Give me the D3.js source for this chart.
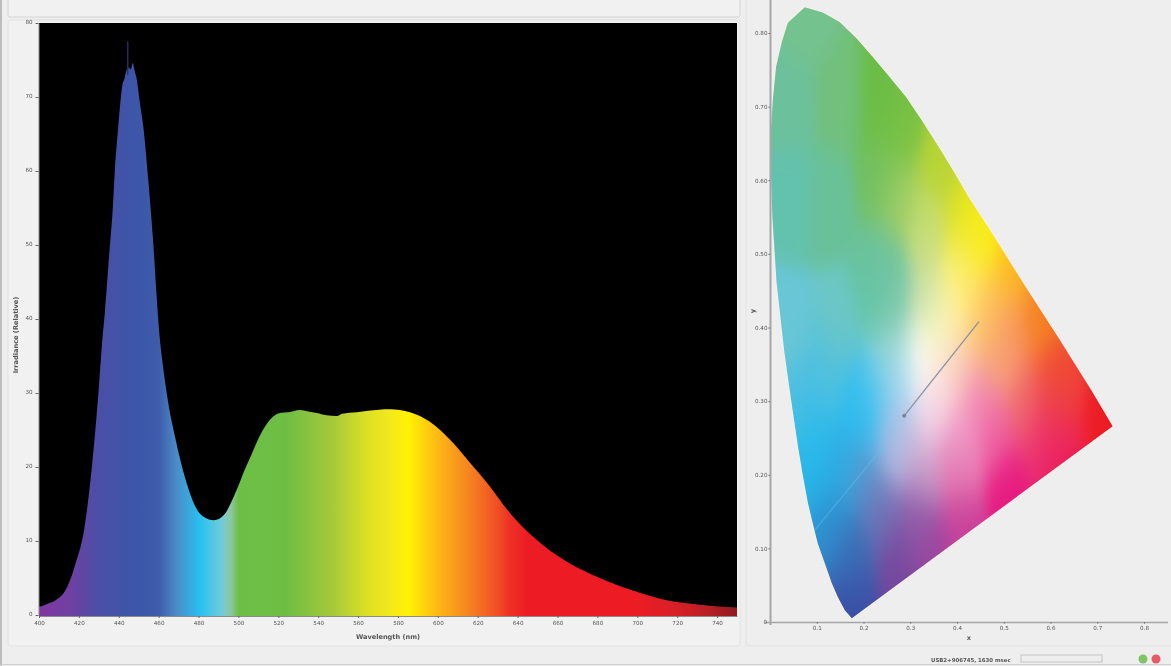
<!DOCTYPE html>
<html><head><meta charset="utf-8">
<script src="https://cdnjs.cloudflare.com/ajax/libs/d3/7.8.5/d3.min.js"></script>
<style>
html,body{margin:0;padding:0;background:#eeeeee;overflow:hidden}
svg{display:block;filter:blur(0.4px)}
text{font-family:"DejaVu Sans",sans-serif;fill:#555}
.tick text{font-size:5.6px}
</style></head><body>
<svg id="c" width="1171" height="666"></svg>
<script>
// ---- spectrum data
const wavelengths = [400,401.5,404,408.4,413.4,418.4,422.6,426.7,429.7,431.7,433,435.2,437,438,439.7,441.8,443,443.6,445,446,447,448,449,450.6,452.3,454.8,457.3,459,460.2,462,464.3,468.5,473.5,478.5,483.6,487.7,492.7,497.7,503.6,505.8,510.3,515.8,520.8,525,530.8,535,539.3,544,549.4,552,559.4,565,576,586,596,606,616,626,634.6,647.6,664.7,681.2,697.7,714.8,731.3,750];
const irradiance  = [1.1,1.2,1.5,2.0,3.4,7.0,11.5,20.5,29.7,37,40.8,48.7,55,59.9,65.8,71.6,72.6,73.4,74,73.7,74.6,73.5,72.4,69.2,66,58.8,50.3,43,38.5,34,29.5,23.7,18.3,14.6,13.1,12.8,13.5,16,19.9,21.2,24,26.4,27.3,27.4,27.7,27.5,27.3,27.0,26.9,27.2,27.4,27.6,27.8,27.4,26.1,23.7,20.6,17.4,14.3,10.6,7.2,5,3.3,2.0,1.4,1.0];
const spikeWavelengths = [444.5,444.5], spikeValues = [73,77.5];
const stopWavelengths = [400,415,430,447,460,469,480.7,491,493,496.5,500,524,547,564,576,585,601,616,631,636,645,698,720,735,750];
const stopColors = ["#8036a0","#7040a2","#4a4fa6","#3c55a8","#3e5cab","#4a8cc8","#28c0f0","#6ccbdc","#7cc9cc","#8cc69a","#6cbf46","#6fbe44","#a5c93a","#dbe024","#f4e81c","#fff200","#fdb515","#f58220","#ef4a23","#ee3025","#ed1c24","#ed1c24","#d81f26","#b81f25","#8e1b1f"];
const xTicks = [400,420,440,460,480,500,520,540,560,580,600,620,640,660,680,700,720,740];
const yTicks = [0,10,20,30,40,50,60,70,80];
// ---- chromaticity diagram data
const locusX = [.0745,.113,.149,.185,.219,.255,.291,.327,.362,.395,.426,.474,.546,.617,.687,.733,.175,.160,.145,.132,.117,.102,.091,.081,.070,.060,.049,.038,.030,.023,.014,.005,.0015,.0015,.006,.013,.025,.038];
const locusY = [.835,.828,.815,.793,.768,.741,.713,.679,.644,.610,.576,.529,.456,.386,.315,.266,.005,.016,.034,.053,.08,.107,.135,.162,.2,.238,.285,.333,.37,.410,.461,.550,.618,.664,.709,.754,.787,.814];
const fieldX = [.074,.234,.149,.043,.277,.362,.415,.457,.234,.043,.128,.277,.340,.234,.426,.032,.149,.447,.511,.574,.489,.617,.702,.617,.511,.617,.404,.272,.209,.128,.064,.085,.149,.272,.202,.33,.40,.408,.309,.238,.132,.174,.272,.181,.345,
  .336,.406,.443,.385,.349,.263,.229,.263,.317,.229,.193,.477,.513,.406,.370,.443,.550,.620,.336,.263,.477,.584,.085];
const fieldY = [.818,.709,.709,.709,.668,.614,.553,.526,.600,.573,.573,.573,.533,.490,.485,.397,.397,.410,.478,.410,.356,.329,.274,.257,.179,.22,.247,.319,.274,.342,.302,.207,.207,.238,.197,.207,.207,.125,.139,.152,.139,.094,.075,.016,.094,
  .437,.460,.528,.414,.383,.437,.437,.369,.353,.325,.302,.437,.393,.356,.325,.302,.302,.302,.278,.257,.257,.247,.26];
const fieldColors = ["#74c28e","#6abd45","#72c07c","#6cc09c","#79c143","#b7d433","#dbe020","#fff200","#70bf62","#63c2ae","#69c199","#a5d064","#c9de7c","#6cc29a","#fcef60","#68c6d6","#6dc7c6","#fdc766","#fdb813","#f58220","#f7a67c","#ef4f2f","#ed1c24","#ee2c5a","#e61a80","#e8125e","#f2a8d0","#a0d8f5","#2abcee","#4fc0e0","#52bfe0","#26b5e8","#2cb0e6","#bfb7dc","#5b92cc","#c99cc9","#e269a9","#c9409a","#8c5ba8","#6f70b5","#2e8fcf","#3a6bb5","#74479d","#3a4fa5","#9b449f",
  "#c6dfa0","#fdf080","#f8ec20","#fff8b0","#fdfbd0","#80c8a8","#5ec4a8","#a0d8d0","#ffffff","#70ccec","#28bcf0","#fdc060","#f79060","#f9c8b0","#f9d8e0","#f08ab8","#ef6a6a","#ee4040","#f4d8e8","#a8c0e8","#ee5fa0","#ec3a78","#2bbcec"];
const cieTicksX = [.1,.2,.3,.4,.5,.6,.7,.8];
const cieTicksY = [.1,.2,.3,.4,.5,.6,.7,.8];
const dominantX = [.287,.447], dominantY = [.280,.408];
const streakX = [.096,.245], streakY = [.125,.24];

const svg = d3.select("#c");
// ---- window furniture
const chrome = svg.append("g");
chrome.append("rect").attr("x",0).attr("y",0).attr("width",2).attr("height",666).attr("fill","#bdbdbd");
chrome.append("rect").attr("x",8).attr("y",-6).attr("width",732).attr("height",23).attr("rx",2).attr("fill","#f1f1f1").attr("stroke","#d4d4d4");
chrome.append("rect").attr("x",8).attr("y",20).attr("width",732).attr("height",626).attr("rx",3).attr("fill","#f1f1f1").attr("stroke","#e2e2e2");
chrome.append("rect").attr("x",746).attr("y",-4).attr("width",430).attr("height",650).attr("rx",3).attr("fill","#eeeeee").attr("stroke","#e2e2e2");
chrome.append("line").attr("x1",0).attr("x2",1171).attr("y1",664.5).attr("y2",664.5).attr("stroke","#d0d0d0");

// ---- spectrum
const x = d3.scaleLinear().domain([400,750]).range([39,737]);
const y = d3.scaleLinear().domain([0,80]).range([615,23]);
svg.append("rect").attr("x",x(400)).attr("y",y(80)).attr("width",x(750)-x(400)).attr("height",y(0)-y(80)+1).attr("fill","#000");
const defs = svg.append("defs");
const grad = defs.append("linearGradient").attr("id","spec").attr("gradientUnits","userSpaceOnUse")
  .attr("x1",x(400)).attr("x2",x(750)).attr("y1",0).attr("y2",0);
grad.selectAll("stop").data(stopWavelengths).join("stop")
  .attr("offset",d=>(d-400)/350).attr("stop-color",(d,i)=>stopColors[i]);
const area = d3.area().x(d=>x(d[0])).y0(y(0)+1).y1(d=>y(d[1])).curve(d3.curveMonotoneX);
svg.append("path").datum(d3.zip(wavelengths,irradiance)).attr("d",area).attr("fill","url(#spec)");
const spike = d3.line().x(d=>x(d[0])).y(d=>y(d[1]));
svg.append("path").attr("d",spike(d3.zip(spikeWavelengths,spikeValues))).attr("stroke","#26325e").attr("stroke-width",1.4).attr("fill","none");

const xAxis = svg.append("g").attr("transform",`translate(0,${y(0)+1})`)
  .call(d3.axisBottom(x).tickValues(xTicks).tickSize(2).tickPadding(3).tickSizeOuter(0));
xAxis.select(".domain").attr("stroke","#8a8a8a");
xAxis.selectAll("line").attr("stroke","#666");
const yAxis = svg.append("g").attr("transform",`translate(${x(400)-0.5},0)`)
  .call(d3.axisLeft(y).tickValues(yTicks).tickSize(3).tickPadding(3).tickSizeOuter(0));
yAxis.select(".domain").attr("stroke","#8a8a8a");
yAxis.selectAll("line").attr("stroke","#666");
yAxis.selectAll("text").attr("dy","0.1em");
svg.append("text").attr("x",388).attr("y",639).attr("text-anchor","middle").attr("font-size",6.6).attr("font-weight","bold").text("Wavelength (nm)");
svg.append("text").attr("transform","translate(18,335) rotate(-90)").attr("text-anchor","middle").attr("font-size",6.6).attr("font-weight","bold").text("Irradiance (Relative)");

// ---- chromaticity diagram
const cx = d3.scaleLinear().domain([0,.8]).range([770,1144]);
const cy = d3.scaleLinear().domain([0,.8]).range([622,33]);
const W = 400, H = 640, cv = document.createElement("canvas");
cv.width = W; cv.height = H;
const ctx = cv.getContext("2d"), img = ctx.createImageData(W,H);
const rgb = fieldColors.map(c=>d3.rgb(c));
const ox = 760, oy = 0, sigma2 = 2*0.03*0.03;
for(let j=0;j<H;j++)for(let i=0;i<W;i++){
  const dx = cx.invert(ox+i), dy = cy.invert(oy+j);
  let r=0,g=0,b=0,s=0;
  for(let k=0;k<fieldX.length;k++){
    const a=(dx-fieldX[k]), c=(dy-fieldY[k])*0.8, d2=a*a+c*c;
    const w=Math.exp(-d2/sigma2)+1e-9/(d2*d2+1e-6);
    r+=w*rgb[k].r; g+=w*rgb[k].g; b+=w*rgb[k].b; s+=w;
  }
  const p=(j*W+i)*4;
  img.data[p]=r/s; img.data[p+1]=g/s; img.data[p+2]=b/s; img.data[p+3]=255;
}
ctx.putImageData(img,0,0);
const locusLine = d3.line().x(d=>cx(d[0])).y(d=>cy(d[1])).curve(d3.curveLinearClosed);
const locus = d3.zip(locusX,locusY);
defs.append("clipPath").attr("id","loc").append("path").attr("d",locusLine(locus));
svg.append("path").attr("d",locusLine(locus)).attr("fill","none").attr("stroke","#fbf3ea").attr("stroke-width",1.6);
svg.append("image").attr("x",ox).attr("y",oy).attr("width",W).attr("height",H)
  .attr("href",cv.toDataURL()).attr("clip-path","url(#loc)");
const seg = d3.line().x(d=>cx(d[0])).y(d=>cy(d[1]));
svg.append("path").attr("d",seg(d3.zip(streakX,streakY))).attr("stroke","#62c3ee").attr("stroke-opacity",.4).attr("stroke-width",1.4).attr("fill","none");
svg.append("path").attr("d",seg(d3.zip(dominantX,dominantY))).attr("stroke","#8e90a2").attr("stroke-width",1.3).attr("fill","none");
svg.append("circle").attr("cx",cx(dominantX[0])).attr("cy",cy(dominantY[0])).attr("r",2).attr("fill","#7f8296");

const cxAxis = svg.append("g").attr("transform",`translate(0,${cy(0)})`)
  .call(d3.axisBottom(cx).tickValues(cieTicksX).tickFormat(d3.format(".1f")).tickSize(1.5).tickPadding(3).tickSizeOuter(0));
cxAxis.select(".domain").attr("d",`M${cx(0)-5},0.5H1168`).attr("stroke","#a6a6a6").attr("stroke-width",1.5);
cxAxis.selectAll("line").attr("stroke","#666");
const cyAxis = svg.append("g").attr("transform",`translate(${cx(0)},0)`)
  .call(d3.axisLeft(cy).tickValues(cieTicksY).tickFormat(d3.format(".2f")).tickSize(1.5).tickPadding(1).tickSizeOuter(0));
cyAxis.select(".domain").attr("d",`M0.5,${cy(0)+3}V0`).attr("stroke","#a6a6a6").attr("stroke-width",2);
cyAxis.selectAll("line").attr("stroke","#666");
svg.append("text").attr("x",cx(0)-3).attr("y",cy(0)+2).attr("text-anchor","end").attr("font-size",5.6).text("0");
svg.append("text").attr("x",969).attr("y",640).attr("text-anchor","middle").attr("font-size",6.6).attr("font-weight","bold").text("x");
svg.append("text").attr("transform","translate(755,311) rotate(-90)").attr("text-anchor","middle").attr("font-size",6.6).attr("font-weight","bold").text("y");

// ---- status bar
svg.append("text").attr("x",931).attr("y",662).attr("font-size",5.4).attr("font-weight","bold").text("USB2+906745, 1630 msec");
svg.append("rect").attr("x",1021).attr("y",655).attr("width",81).attr("height",7).attr("fill","none").attr("stroke","#c4c4c4");
svg.append("circle").attr("cx",1143).attr("cy",659).attr("r",4.5).attr("fill","#7fc466");
svg.append("circle").attr("cx",1156).attr("cy",659).attr("r",4.5).attr("fill","#ea5a64");
</script></body></html>
